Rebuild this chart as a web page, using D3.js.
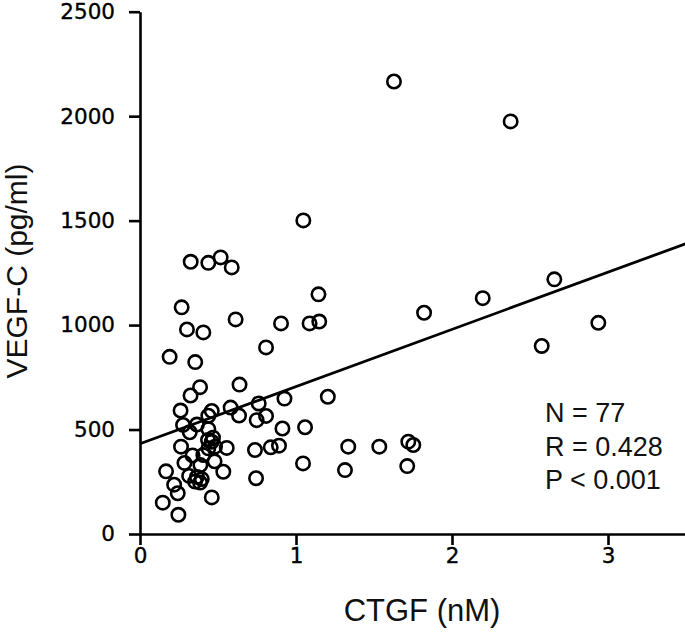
<!DOCTYPE html>
<html>
<head>
<meta charset="utf-8">
<script src="https://cdn.jsdelivr.net/npm/d3@7"></script>
<style>
  html, body { margin: 0; padding: 0; background: #fff; }
  svg { display: block; }
</style>
</head>
<body>
<svg id="chart" width="685" height="635"></svg>
<script>
// CTGF (nM)
const ctgf = [
  0.325, 0.438, 0.517, 0.588, 0.267, 0.613, 1.144, 0.904, 1.087, 1.149,
  0.301, 0.406, 0.190, 0.354, 0.808, 0.385, 0.638, 0.324, 0.260, 0.460,
  0.438, 0.581, 0.635, 0.761, 0.748, 0.808, 0.926, 1.204, 0.276, 0.365,
  0.319, 0.438, 0.913, 1.058, 0.436, 0.460, 0.468, 0.263, 0.556, 0.737,
  0.838, 0.891, 0.438, 0.481, 0.337, 0.406, 0.285, 0.387, 0.478, 0.534,
  0.167, 1.045, 0.315, 0.365, 0.396, 0.385, 0.744, 0.219, 0.242, 0.146,
  0.460, 0.246, 1.821, 2.197, 2.938, 2.575, 1.335, 1.534, 1.720, 1.752,
  1.314, 1.713, 1.628, 2.376, 1.047, 2.656, 0.353
];
// VEGF-C (pg/ml)
const vegfc = [
  1303, 1298, 1324, 1276, 1085, 1027, 1147, 1008, 1008, 1017,
  979, 965, 848, 823, 893, 703, 715, 663, 591, 589,
  566, 605, 567, 625, 545, 565, 648, 657, 522, 524,
  487, 502, 505, 511, 450, 442, 461, 418, 412, 402,
  415, 423, 410, 418, 376, 378, 340, 330, 348, 298,
  300, 338, 278, 273, 263, 246, 267, 236, 195, 150,
  175, 92, 1059, 1129, 1011, 900, 418, 418, 442, 426,
  306, 325, 2166, 1975, 1501, 1219, 251
];
// regression line endpoints
const fitX = [0, 3.5];
const fitY = [432, 1390];

const xTicks = [0, 1, 2, 3];
const yTicks = [0, 500, 1000, 1500, 2000, 2500];
const statLines = ["N = 77", "R = 0.428", "P < 0.001"];

const svg = d3.select("#chart");
const x = d3.scaleLinear().domain([0, 3.5]).range([140, 686]);
const y = d3.scaleLinear().domain([0, 2500]).range([534, 11.7]);

const tickFont = "'DejaVu Sans', sans-serif";

// y axis
const gy = svg.append("g")
  .attr("transform", "translate(140,0)")
  .call(d3.axisLeft(y).tickValues(yTicks).tickFormat(d3.format("d"))
        .tickSize(11).tickSizeOuter(0).tickPadding(14));
// x axis
const gx = svg.append("g")
  .attr("transform", "translate(0,534)")
  .call(d3.axisBottom(x).tickValues(xTicks).tickFormat(d3.format("d"))
        .tickSize(11).tickSizeOuter(0).tickPadding(3));

[gx, gy].forEach(g => {
  g.attr("font-family", tickFont).attr("font-size", 21.5);
  g.select(".domain").attr("stroke", "#000").attr("stroke-width", 2.6);
  g.selectAll(".tick line").attr("stroke", "#000").attr("stroke-width", 2.6);
  g.selectAll(".tick text").attr("fill", "#000")
    .attr("stroke", "#000").attr("stroke-width", 0.35);
});

// regression line
const pts = fitX.map((v, i) => [x(v), y(fitY[i])]);
svg.append("path")
  .attr("d", d3.line()(pts))
  .attr("fill", "none")
  .attr("stroke", "#000")
  .attr("stroke-width", 2.8);

// points
svg.append("g")
  .selectAll("circle")
  .data(ctgf.map((c, i) => [c, vegfc[i]]))
  .join("circle")
  .attr("cx", d => x(d[0]))
  .attr("cy", d => y(d[1]))
  .attr("r", 6.7)
  .attr("fill", "none")
  .attr("stroke", "#000")
  .attr("stroke-width", 2.6);

// axis titles
const titleFont = "'Liberation Sans', Arial, sans-serif";
svg.append("text")
  .attr("x", 422)
  .attr("y", 621)
  .attr("text-anchor", "middle")
  .style("font-family", titleFont)
  .style("font-size", "31px")
  .attr("fill", "#111")
  .text("CTGF (nM)");

svg.append("text")
  .attr("transform", "translate(27,271) rotate(-90)")
  .attr("text-anchor", "middle")
  .style("font-family", titleFont)
  .style("font-size", "30px")
  .attr("fill", "#111")
  .text("VEGF-C (pg/ml)");

// stats
svg.append("g")
  .selectAll("text")
  .data(statLines)
  .join("text")
  .attr("x", 545)
  .attr("y", (d, i) => 421.7 + i * 33.8)
  .style("font-family", titleFont)
  .style("font-size", "27px")
  .attr("fill", "#111")
  .text(d => d);
</script>
</body>
</html>
